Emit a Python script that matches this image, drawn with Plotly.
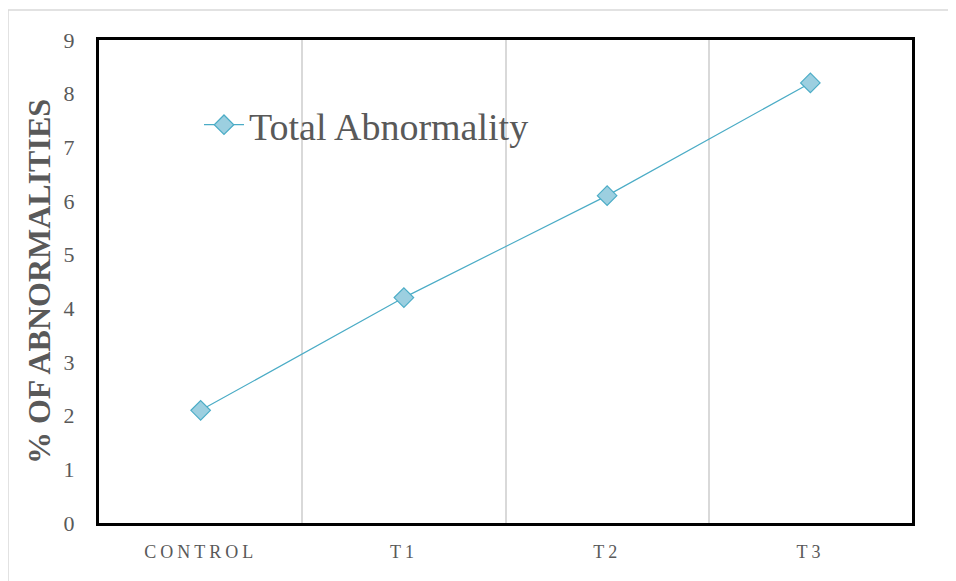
import plotly.graph_objects as go

categories = ["CONTROL", "T1", "T2", "T3"]
total_abnormality = [2.1, 4.2, 6.1, 8.2]
y_ticks = [0, 1, 2, 3, 4, 5, 6, 7, 8, 9]
series_name = "Total Abnormality"
y_title = "% OF ABNORMALITIES"

GRAY = "#595959"
LINE = "#4bacc6"
FILL = "#9ccfe0"

x_pos = list(range(len(categories)))
tick_text = ['<span style="letter-spacing:4px">' + c + '</span>' for c in categories]

fig = go.Figure()
fig.add_trace(go.Scatter(
    x=x_pos, y=total_abnormality, mode="lines+markers", name=series_name,
    line=dict(color=LINE, width=1.2),
    marker=dict(symbol="diamond", size=15, color=FILL, line=dict(color=LINE, width=1.2)),
))

fig.update_layout(
    width=948, height=573,
    margin=dict(l=91, r=44, t=32, b=58),
    paper_bgcolor="white", plot_bgcolor="white",
    font=dict(family="Liberation Serif", color=GRAY),
    showlegend=True,
    legend=dict(x=0.123, y=0.824, xanchor="left", yanchor="middle",
                bgcolor="rgba(0,0,0,0)", font=dict(size=38, color=GRAY, family="Liberation Serif"),
                itemwidth=40),
    xaxis=dict(
        range=[-0.5, len(categories) - 0.5], tickvals=x_pos, ticktext=tick_text,
        showgrid=False, zeroline=False,
        showline=True, mirror=True, linecolor="black", linewidth=3,
        ticks="", tickfont=dict(size=18, color=GRAY, family="Liberation Serif"),
        ticklabelstandoff=10,
        minor=dict(tickvals=[0.5, 1.5, 2.5], showgrid=True, gridcolor="#d9d9d9", gridwidth=1.5, ticks=""),
    ),
    yaxis=dict(
        range=[0, 9], tickvals=y_ticks, showgrid=False, zeroline=False,
        showline=True, mirror=True, linecolor="black", linewidth=3,
        ticks="", tickfont=dict(size=22, color=GRAY, family="Liberation Serif"),
        ticklabelstandoff=17,
        title=dict(text="<b>" + y_title + "</b>", font=dict(size=32, color=GRAY, family="Liberation Serif"), standoff=4),
    ),
    shapes=[dict(type="rect", xref="paper", yref="paper",
                 x0=(8 - 99) / 813, x1=1.3, y0=-0.3, y1=(523 - 10) / 483,
                 line=dict(color="#d9d9d9", width=1.5), fillcolor="rgba(0,0,0,0)", layer="below")],
)

fig.write_html("out.html")
